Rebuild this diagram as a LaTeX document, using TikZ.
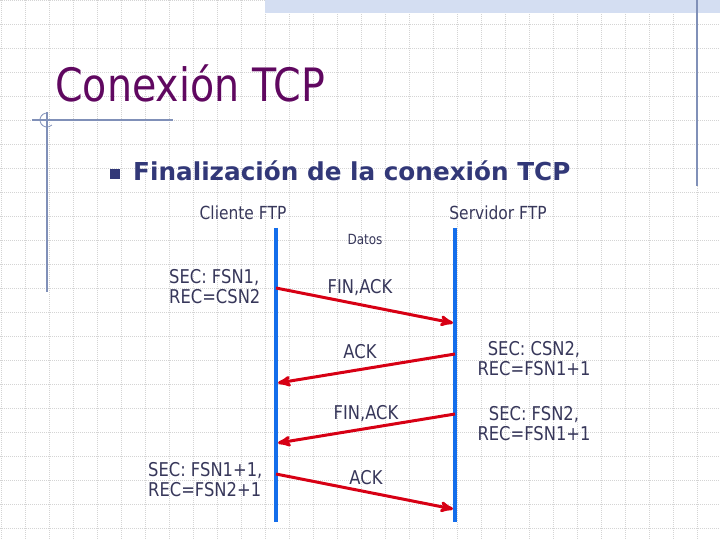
\documentclass[tikz,border=0pt]{standalone}
\usepackage{fontspec}
\setmainfont{DejaVu Sans}[FakeStretch=0.86]
\newfontfamily\headfont{DejaVu Sans}
\usetikzlibrary{arrows, positioning}

\definecolor{titlepurple}{RGB}{96,8,96}
\definecolor{headblue}{RGB}{50,56,120}
\definecolor{labelgray}{RGB}{55,55,90}
\definecolor{lineblue}{RGB}{20,110,235}
\definecolor{msgred}{RGB}{215,0,20}
\definecolor{gridgray}{RGB}{212,212,212}
\definecolor{rulegray}{RGB}{128,144,184}
\definecolor{bandblue}{RGB}{212,222,242}

\tikzset{
  gridline/.style={gridgray, line width=0.6pt, dash pattern=on 0.8pt off 1.2pt},
  rule/.style={rulegray, line width=1.2pt},
  lifeline/.style={lineblue, line width=4.5pt},
  msg/.style={->, msgred, line width=3pt},
  lbl/.style={labelgray, inner sep=0pt, font=\fontsize{19}{20}\selectfont},
}

\begin{document}
\begin{tikzpicture}[x=1pt, y=-1pt, >=stealth']
        \useasboundingbox (0,0) rectangle (720,540);

        % Slide background
        \foreach \gx in {1,25,...,721}
            \draw[gridline] (\gx,0) -- (\gx,540);
        \foreach \gy in {0,24,...,540}
            \draw[gridline] (0,\gy) -- (720,\gy);
        \fill[bandblue] (265,0) rectangle (720,13);
        \draw[rule, line width=1.5pt] (697,0) -- (697,186);
        \draw[rule] (32,120) -- (173,120);
        \draw[rule] (47,112) -- (47,292);
        \draw[rule, line width=0.8pt] (47,120) ++(-80:7) arc[start angle=-80, end angle=-315, radius=7];

        % Title and bullet
        \node[anchor=base west, inner sep=0pt, titlepurple, font=\fontsize{46}{50}\selectfont] (title) at (55,102) {Conexión TCP};
        \node[fill=headblue, minimum size=10pt, inner sep=0pt] (bul) at (115,174) {};
        \node[anchor=base west, inner sep=0pt, headblue, font=\headfont\bfseries\fontsize{24.7}{28}\selectfont] (head) at (133,181) {Finalización de la conexión TCP};

        % Hosts
        \node[lbl, anchor=base, font=\fontsize{18}{20}\selectfont] (cli) at (243,220) {Cliente FTP};
        \node[lbl, anchor=base, font=\fontsize{18}{20}\selectfont] (srv) at (498,220) {Servidor FTP};
        \node[lbl, anchor=base, font=\fontsize{14}{16}\selectfont] (datos) at (365,244) {Datos};

        % Lifelines
        \coordinate (cliTop) at (276,228);
        \coordinate (cliBot) at (276,522);
        \coordinate (srvTop) at (455,228);
        \coordinate (srvBot) at (455,522);
        \draw[lifeline] (cliTop) -- (cliBot);
        \draw[lifeline] (srvTop) -- (srvBot);

        % Message end points
        \coordinate (c1) at (276,288);
        \coordinate (s1) at (453,323);
        \coordinate (s2) at (455,354);
        \coordinate (c2) at (278,383);
        \coordinate (s3) at (455,414);
        \coordinate (c3) at (278,443);
        \coordinate (c4) at (276,474);
        \coordinate (s4) at (453,509);

        \path
        (c1) edge[msg] (s1)
        (s2) edge[msg] (c2)
        (s3) edge[msg] (c3)
        (c4) edge[msg] (s4);

        % Message labels
        \node[lbl, anchor=base] (m1) at (360,293) {FIN,ACK};
        \node[lbl, anchor=base] (m2) at (360,358) {ACK};
        \node[lbl, anchor=base] (m3) at (366,419) {FIN,ACK};
        \node[lbl, anchor=base] (m4) at (366,484) {ACK};

        % Sequence numbers (base = last line)
        \node[lbl, anchor=base west, align=left] (secA) at (169,303) {SEC: FSN1,\\REC=CSN2};
        \node[lbl, anchor=base, align=center] (secB) at (534,375) {SEC: CSN2,\\REC=FSN1+1};
        \node[lbl, anchor=base, align=center] (secC) at (534,440) {SEC: FSN2,\\REC=FSN1+1};
        \node[lbl, anchor=base west, align=left] (secD) at (148,496) {SEC: FSN1+1,\\REC=FSN2+1};
\end{tikzpicture}
\end{document}
